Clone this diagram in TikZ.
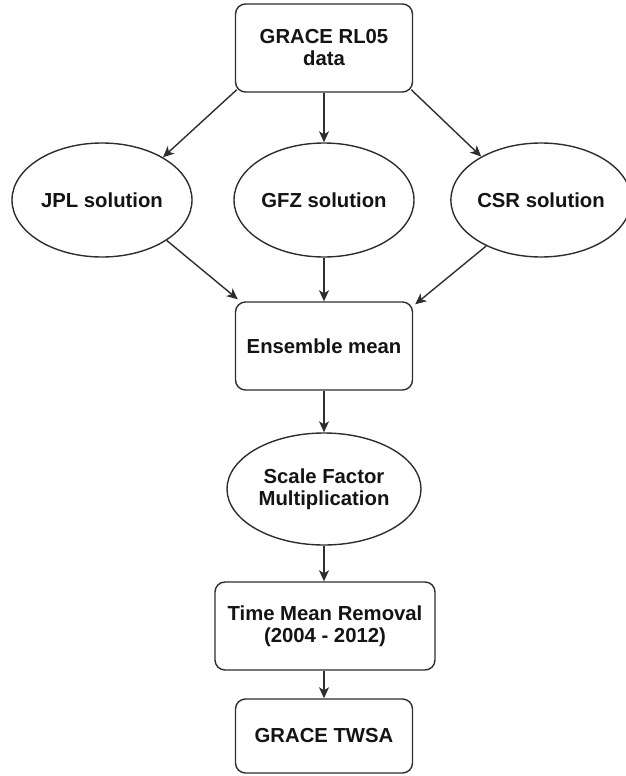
\documentclass[tikz,border=0pt]{standalone}
\usepackage{fontspec}
\setmainfont{Liberation Sans}
\usetikzlibrary{arrows.meta,shapes.geometric}
\definecolor{linec}{HTML}{2E2E2E}
\definecolor{textc}{HTML}{141414}
\tikzset{
  base/.style={draw=linec, line width=1.4pt, fill=white, inner sep=0pt, align=center,
    text=textc, font=\fontsize{20.3}{22}\selectfont\bfseries},
  rbox/.style={base, rectangle, rounded corners=10pt},
  oval/.style={base, ellipse},
  conn/.style={draw=linec, line width=1.4pt, -{Stealth[length=11pt,width=10pt,inset=3pt]}}
}
\begin{document}
\begin{tikzpicture}[x=1pt,y=-1pt]
\useasboundingbox (0,0) rectangle (626,776);
\node[rbox, minimum width=177pt, minimum height=88pt] (grace) at (324,48) {GRACE RL05\\data};
\node[oval, minimum width=180pt, minimum height=114pt] (jpl) at (102,200) {JPL solution};
\node[oval, minimum width=180pt, minimum height=114pt] (gfz) at (324,200) {GFZ solution};
\node[oval, minimum width=172pt, minimum height=114pt] (csr) at (541,200) {CSR solution};
\node[rbox, minimum width=177pt, minimum height=88pt] (ens) at (324,346) {Ensemble mean};
\node[oval, minimum width=194pt, minimum height=112pt] (scale) at (324,489) {Scale Factor\\Multiplication};
\node[rbox, minimum width=220pt, minimum height=88pt] (time) at (325,626) {Time Mean Removal\\(2004 - 2012)};
\node[rbox, minimum width=177pt, minimum height=74pt] (twsa) at (324,736) {GRACE TWSA};

\draw[conn] ([xshift=2pt,yshift=3pt]grace.south west) -- (jpl.35);
\draw[conn] (grace.south) -- (gfz.north);
\draw[conn] ([xshift=-2pt,yshift=3pt]grace.south east) -- (csr.144);
\draw[conn] (jpl.-32) -- ([xshift=3pt,yshift=2pt]ens.north west);
\draw[conn] (gfz.south) -- (ens.north);
\draw[conn] (csr.220) -- ([xshift=2pt,yshift=-3pt]ens.north east);
\draw[conn] (ens.south) -- (scale.north);
\draw[conn] (scale.south) -- (time.north -| scale.south);
\draw[conn] (time.south -| twsa.north) -- (twsa.north);
\end{tikzpicture}
\end{document}
